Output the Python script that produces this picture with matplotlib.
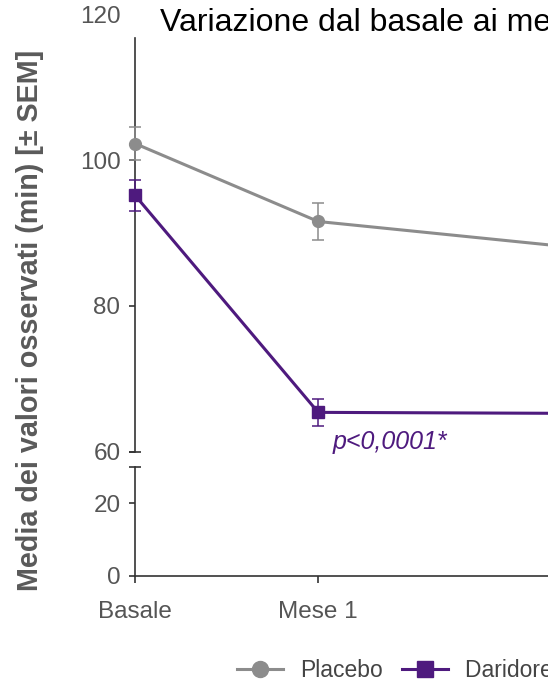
import matplotlib
matplotlib.use('Agg')
import matplotlib.pyplot as plt
from matplotlib.lines import Line2D

# ---- data ----
months = [0, 1, 3]
tick_labels = ['Basale', 'Mese 1', 'Mese 3']
placebo_mean = [102.3, 91.6, 86.5]
placebo_sem = [2.3, 2.5, 2.4]
dari_mean = [95.2, 65.4, 65.2]
dari_sem = [2.1, 1.9, 1.9]
series_names = ['Placebo', 'Daridorexant 50 mg']
upper_ticks = [60, 80, 100, 120]
lower_ticks = [0, 20]
title = 'Variazione dal basale ai mesi 1 e 3'
ylabel = 'Media dei valori osservati (min) [± SEM]'
p_text = 'p<0,0001*'

# ---- style ----
plt.rcParams['font.family'] = ['Liberation Sans', 'DejaVu Sans']
GRAY = '#8c8c8c'
PURPLE = '#4e1a7e'
AX = '#333333'
TXT = '#555555'
FS = 17.5

W, H = 548, 685
fig = plt.figure(figsize=(W / 100, H / 100), dpi=100)

left = 135 / W
width = 1.12
up_bottom = (H - 451.7) / H
up_top = (H - 14.6) / H
lo_bottom = (H - 575.7) / H
lo_h = 108.6 / H

ax_up = fig.add_axes([left, up_bottom, width, up_top - up_bottom])
ax_lo = fig.add_axes([left, lo_bottom, width, lo_h])

for ax in (ax_up, ax_lo):
    ax.set_xlim(0, 3.35)
    ax.set_facecolor('none')
    ax.spines['right'].set_visible(False)
    ax.spines['top'].set_visible(False)
    for s in ('left', 'bottom'):
        ax.spines[s].set_color(AX)
        ax.spines[s].set_linewidth(1.2)
    ax.tick_params(axis='both', direction='out', length=4.5, width=1.2,
                   color=AX, labelcolor=TXT, labelsize=FS)
    ax.tick_params(axis='y', pad=6)

# upper axis
ax_up.set_ylim(60, 120)
ax_up.spines['bottom'].set_visible(False)
ax_up.spines['left'].set_bounds(60, 116.8)
ax_up.set_yticks(upper_ticks)
ax_up.set_xticks([])
ax_up.yaxis.get_major_ticks()[-1].tick1line.set_visible(False)

# lower axis
ax_lo.set_ylim(0, 30)
ax_lo.set_yticks(lower_ticks)
ax_lo.set_xticks(months)
ax_lo.set_xticklabels(tick_labels)
ax_lo.tick_params(axis='x', length=5, pad=13)

# break marks
ax_up.plot([0], [60], marker='_', markersize=8.5, markeredgewidth=1.2,
           color=AX, clip_on=False, zorder=5)
ax_lo.plot([0], [30], marker='_', markersize=8.5, markeredgewidth=1.2,
           color=AX, clip_on=False, zorder=5)

# series
ax_up.errorbar(months, placebo_mean, yerr=placebo_sem, color=GRAY, lw=2.2,
               marker='o', markersize=8.5, capsize=4.3, elinewidth=1.1,
               capthick=1.1, ecolor=GRAY, clip_on=False, zorder=3)
ax_up.errorbar(months, dari_mean, yerr=dari_sem, color=PURPLE, lw=2.2,
               marker='s', markersize=8.5, capsize=4.3, elinewidth=1.1,
               capthick=1.1, ecolor=PURPLE, clip_on=False, zorder=4)

ax_up.text(1.08, dari_mean[1] - 4.0, p_text, color=PURPLE, style='italic',
           fontsize=18, ha='left', va='center')

# title
fig.text(160 / W, 1 - 31 / H, title, fontsize=23, color='black',
         ha='left', va='baseline')

# y label
fig.text(30 / W, 1 - 320 / H, ylabel, rotation=90, fontsize=20.7,
         fontweight='bold', color='#5a5a5a', ha='center', va='center')

# legend
handles = [
    Line2D([], [], color=GRAY, lw=2.2, marker='o', markersize=11.5),
    Line2D([], [], color=PURPLE, lw=2.2, marker='s', markersize=11.5),
]
fig.legend(handles, series_names, loc='center left',
           bbox_to_anchor=(237 / W, 1 - 670.7 / H), ncol=2, frameon=False,
           fontsize=16.5, handlelength=2.0, handletextpad=0.75,
           columnspacing=0.85, borderpad=0, borderaxespad=0,
           labelcolor='#444444')

fig.savefig('out.png', dpi=100)
